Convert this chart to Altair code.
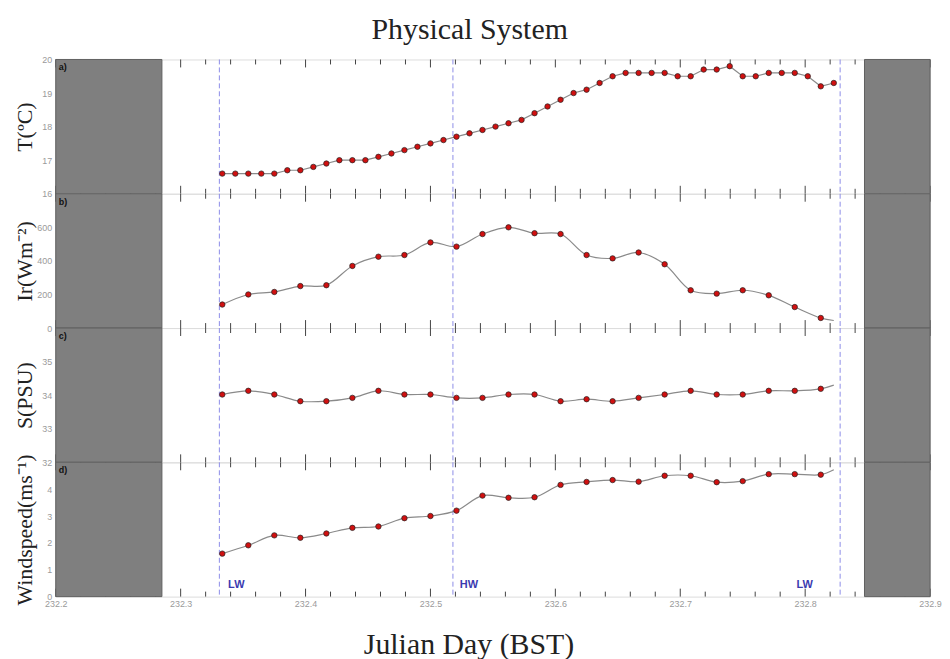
import altair as alt
import pandas as pd

# ---------------- data ----------------
START = 232 + 8 / 24          # first sample (Julian day, BST)
STEP_T = 1 / 96               # 15 min
STEP_O = 1 / 48               # 30 min

temperature = [16.6, 16.6, 16.6, 16.6, 16.6, 16.7, 16.7, 16.8, 16.9, 17.0, 17.0, 17.0,
               17.1, 17.2, 17.3, 17.4, 17.5, 17.6, 17.7, 17.8, 17.9, 18.0, 18.1, 18.2,
               18.4, 18.6, 18.8, 19.0, 19.1, 19.3, 19.5, 19.6, 19.6, 19.6, 19.6, 19.5,
               19.5, 19.7, 19.7, 19.8, 19.5, 19.5, 19.6, 19.6, 19.6, 19.5, 19.2, 19.3]
irradiance = [140, 200, 215, 250, 255, 370, 425, 435, 510, 485, 560, 600,
              565, 560, 435, 415, 450, 380, 225, 205, 225, 195, 125, 60]
salinity = [34.02, 34.13, 34.02, 33.82, 33.82, 33.92, 34.13, 34.02, 34.02, 33.92, 33.92, 34.02,
            34.02, 33.82, 33.88, 33.82, 33.92, 34.02, 34.13, 34.02, 34.02, 34.13, 34.13, 34.19]
windspeed = [1.60, 1.91, 2.28, 2.19, 2.35, 2.56, 2.61, 2.92, 3.00, 3.20, 3.76, 3.68,
             3.70, 4.16, 4.27, 4.34, 4.28, 4.50, 4.50, 4.26, 4.30, 4.56, 4.56, 4.54]
# the smoothed curves run on one more 15-min step past the last marker
curve_end = {"ir": 45, "sal": 34.30, "wind": 4.72}

night_start = [232.2, 232.8475]
night_end = [232.285, 232.9]
tide_x = [232.331, 232.518, 232.828]
tide_text = ["LW", "HW", "LW"]
tide_label_x = [232.338, 232.5235, 232.793]
major_ticks = [232.2, 232.3, 232.4, 232.5, 232.6, 232.7, 232.8, 232.9]
minor_ticks = [round(232.2 + 0.02 * i, 2) for i in range(36) if i % 5 != 0]

W, H = 879, 135
xscale = alt.Scale(domain=[232.2, 232.9], nice=False, zero=False)
SERIF = "Liberation Serif"
SANS = "Liberation Sans"

t_times = [START + i * STEP_T for i in range(len(temperature))]
o_times = [START + i * STEP_O for i in range(len(irradiance))]
end_time = START + (len(temperature) - 1) * STEP_T

shade_df = pd.DataFrame({"x": night_start, "x2": night_end})
tide_df = pd.DataFrame({"x": tide_x})
tide_lab_df = pd.DataFrame({"x": tide_label_x, "t": tide_text})
major_df = pd.DataFrame({"x": major_ticks})
minor_df = pd.DataFrame({"x": minor_ticks})


def panel(times, values, end_value, ydomain, yvalues, ytitle, letter, interp, last=False):
    pts = pd.DataFrame({"x": times, "y": values})
    if end_value is not None:
        line_df = pd.DataFrame({"x": times + [end_time], "y": values + [end_value]})
    else:
        line_df = pts
    yaxis = alt.Axis(values=yvalues, title=ytitle, titleFont=SERIF, titleFontSize=22,
                     titleFontWeight="normal", titleColor="#222222", titleAngle=-90,
                     titleX=-24, titleY=H / 2, titleAlign="center", titleBaseline="alphabetic",
                     labelColor="#9a9a9a", labelFontSize=9, labelFont=SANS, labelPadding=4,
                     labelOverlap=False, ticks=False, domain=False, grid=False)
    yscale = alt.Scale(domain=ydomain, nice=False, zero=False)

    def Y():
        return alt.Y("y:Q", scale=yscale, axis=yaxis)

    if last:
        xaxis = alt.Axis(values=major_ticks, format=".1f", labelColor="#9a9a9a", labelFontSize=9,
                         labelFont=SANS, labelPadding=3, ticks=False, domain=False, grid=False,
                         labelFlush=False, labelOverlap=False, title="Julian Day (BST)",
                         titleFont=SERIF, titleFontSize=30, titleFontWeight="normal",
                         titleColor="#222222", titleX=415, titleY=57, titleAlign="center",
                         titleBaseline="alphabetic")
    else:
        xaxis = None

    def X():
        return alt.X("x:Q", scale=xscale, axis=xaxis)

    tick_layers = []
    for df, ln in ((major_df, 8), (minor_df, 5)):
        tick_layers.append(alt.Chart(df).mark_rule(color="#444444", strokeWidth=1)
                           .encode(x=X(), y=alt.value(0), y2=alt.value(ln)))
        tick_layers.append(alt.Chart(df).mark_rule(color="#444444", strokeWidth=1)
                           .encode(x=X(), y=alt.value(H - ln), y2=alt.value(H)))
    shade = alt.Chart(shade_df).mark_rect(color="#7f7f7f", stroke="#606060", strokeWidth=1).encode(
        x=X(), x2="x2:Q", y=alt.value(0), y2=alt.value(H))
    tides = alt.Chart(tide_df).mark_rule(color="#8c8ce8", strokeDash=[5, 3], strokeWidth=1).encode(x=X())
    line = alt.Chart(line_df).mark_line(color="#8a8a8a", strokeWidth=1.2, interpolate=interp).encode(
        x=X(), y=Y())
    points = alt.Chart(pts).mark_circle(size=30, color="#d01010", opacity=1, stroke="#222222",
                                        strokeWidth=0.7).encode(x=X(), y=Y())
    lab = alt.Chart(pd.DataFrame({"t": [letter]})).mark_text(
        align="left", baseline="alphabetic", fontSize=9, fontWeight="bold", color="#111111",
        font=SANS).encode(x=alt.value(3), y=alt.value(11), text="t:N")
    layers = tick_layers + [shade, tides, line, points, lab]
    if last:
        layers.append(alt.Chart(tide_lab_df).mark_text(
            align="left", baseline="alphabetic", fontSize=11, fontWeight="bold", color="#3a3ab0",
            font=SANS).encode(x=X(), y=alt.value(126.5), text="t:N"))
    return alt.layer(*layers).properties(width=W, height=H)


pa = panel(t_times, temperature, None, [16, 20], [16, 17, 18, 19, 20], "T(ºC)", "a)", "linear")
pb = panel(o_times, irradiance, curve_end["ir"], [0, 800], [0, 200, 400, 600], "Ir(Wm⁻²)", "b)",
           "catmull-rom")
pc = panel(o_times, salinity, curve_end["sal"], [32, 36], [32, 33, 34, 35], "S(PSU)", "c)",
           "catmull-rom")
pd_ = panel(o_times, windspeed, curve_end["wind"], [0, 5], [0, 1, 2, 3, 4], "Windspeed(ms⁻¹)", "d)",
            "catmull-rom", last=True)

chart = alt.vconcat(pa, pb, pc, pd_, spacing=0, bounds="flush").properties(
    title=alt.TitleParams("Physical System", font=SERIF, fontSize=30, fontWeight="normal",
                          color="#222222", anchor="middle", offset=10, dx=-8),
    padding={"left": 5, "top": 5, "right": 0, "bottom": 0},
).configure_view(stroke="#5a5a5a", strokeWidth=1.5).configure(background="white")

chart.save("out.html", embed_options={"renderer": "svg", "actions": False})
